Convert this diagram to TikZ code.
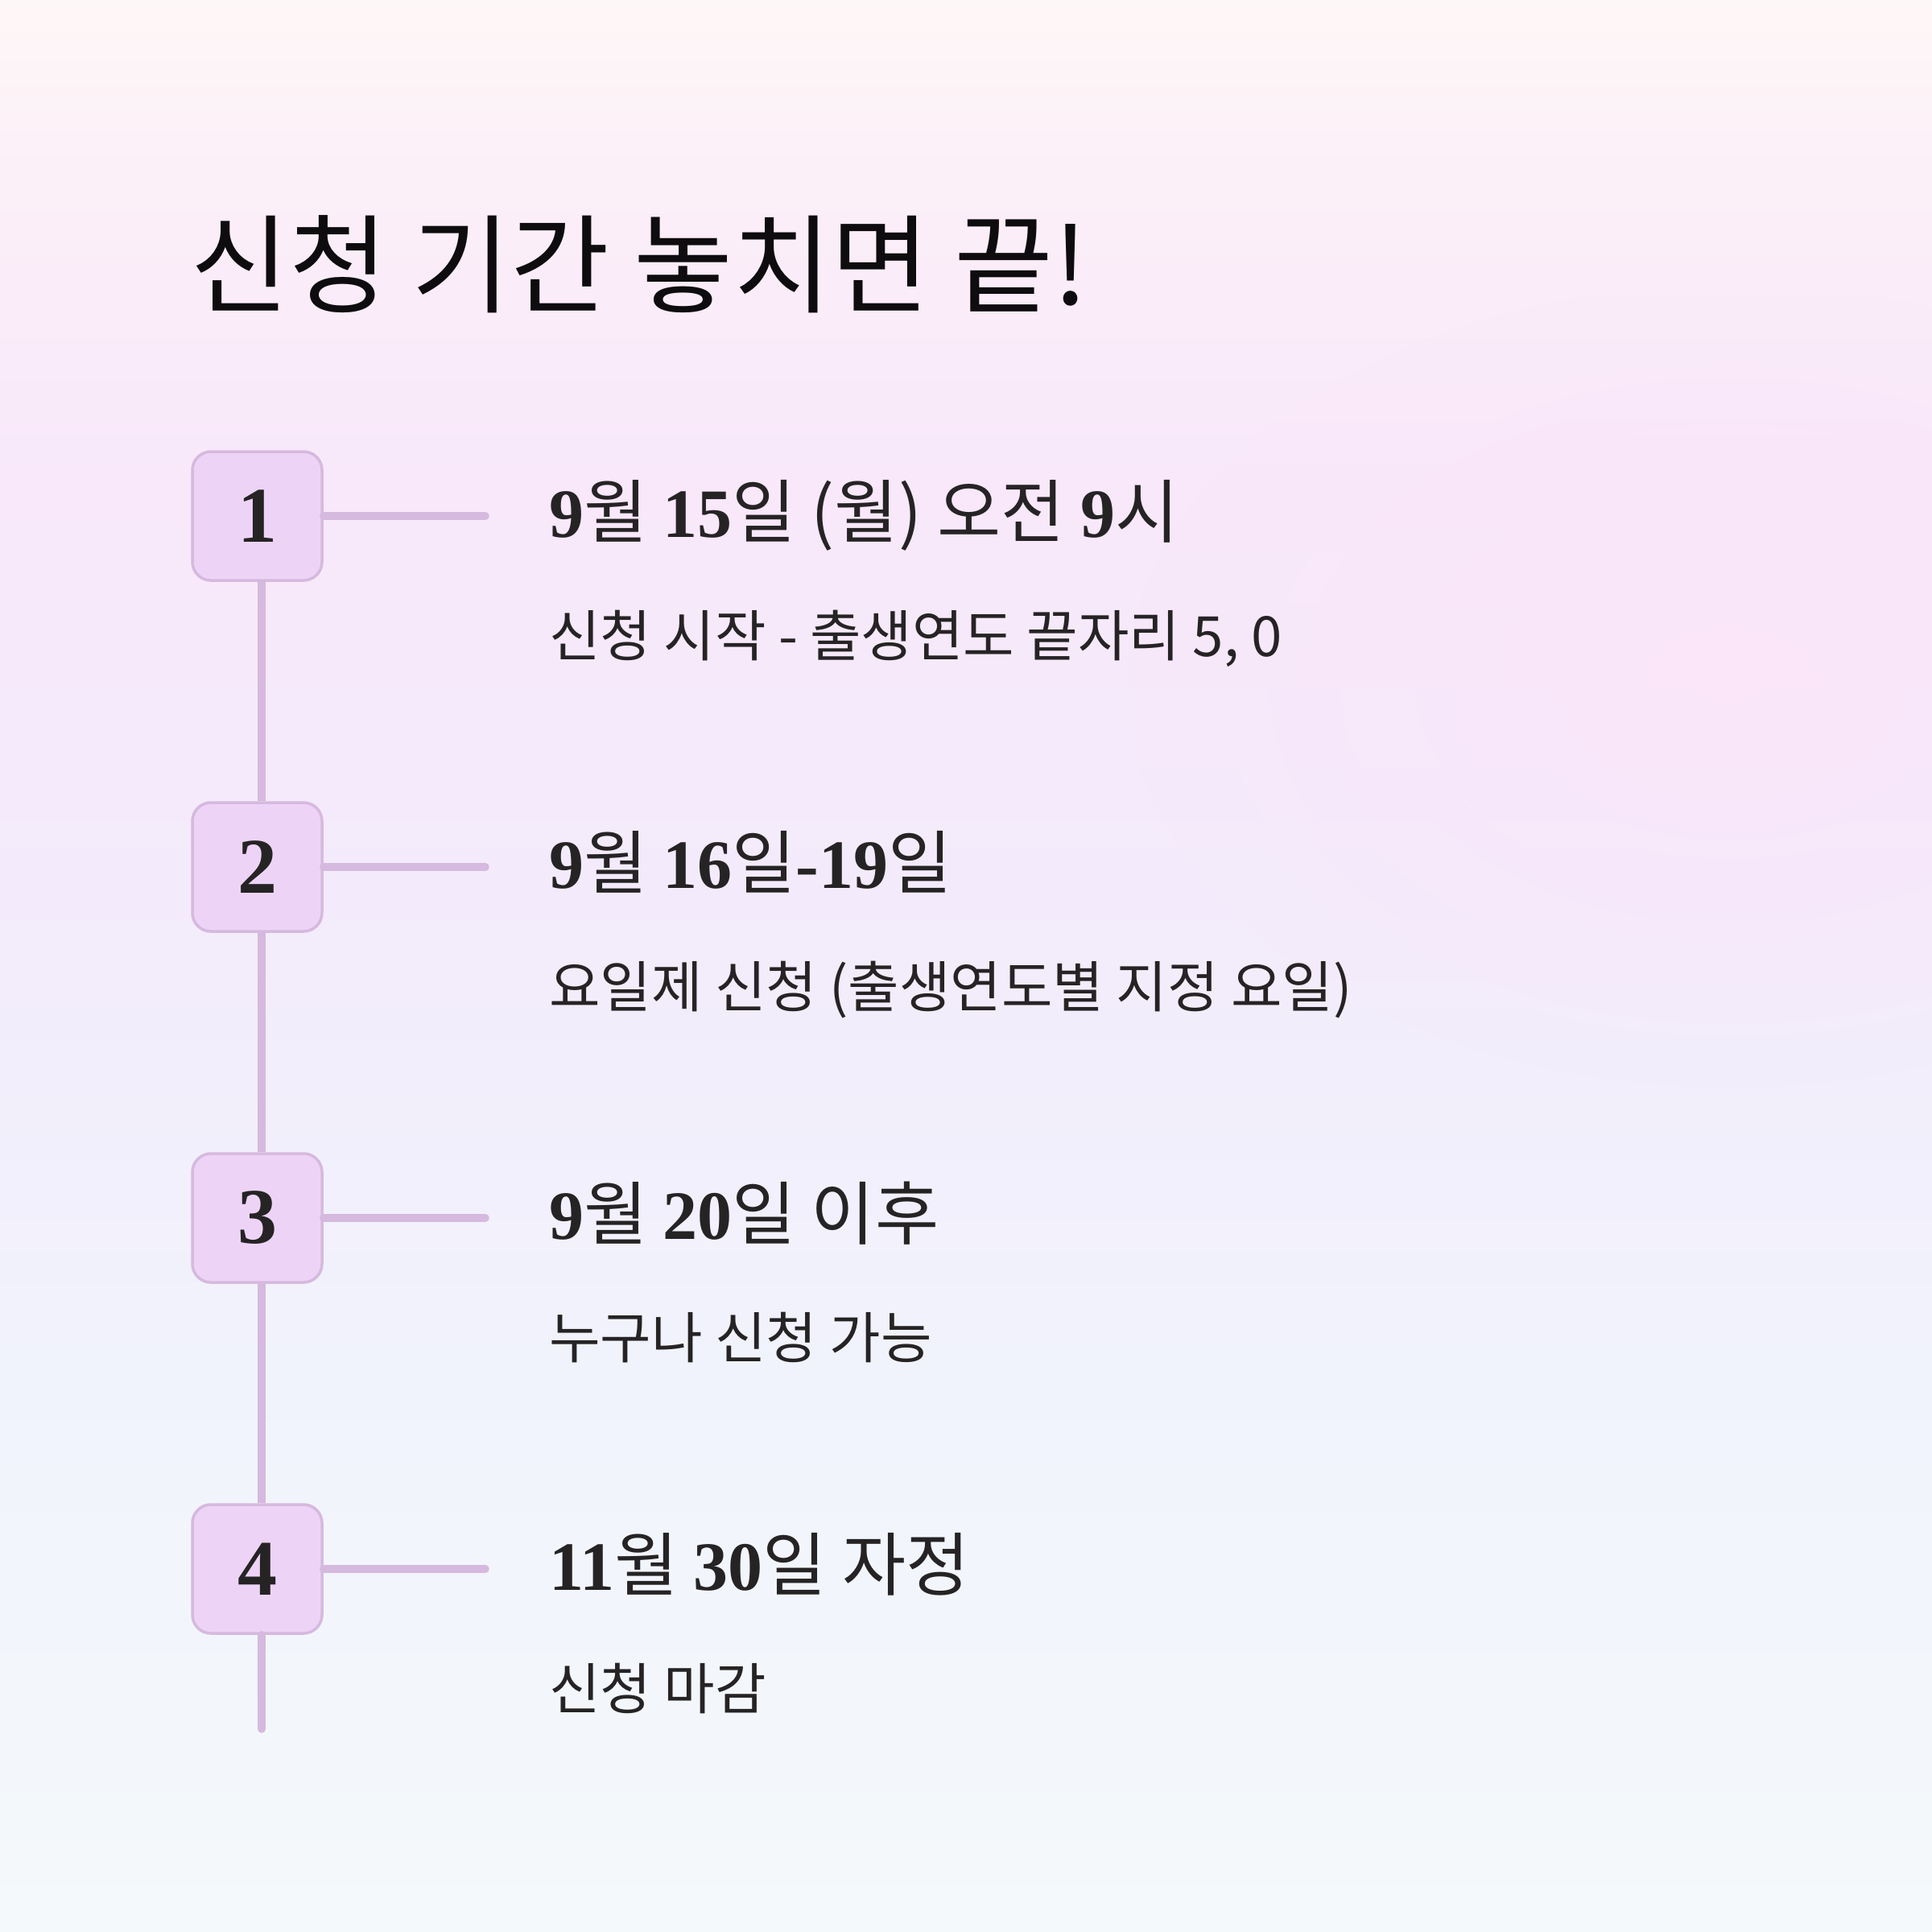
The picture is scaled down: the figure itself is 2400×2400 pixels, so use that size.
\documentclass[tikz,border=0pt]{standalone}
\usepackage{fontspec}
\setmainfont{Liberation Serif}
\newfontfamily\krfont{Noto Sans CJK KR}
\usetikzlibrary{positioning,fadings}
\definecolor{inkdark}{HTML}{262325}
\definecolor{inktitle}{HTML}{0E0C0E}
\definecolor{boxfill}{HTML}{EDD4F6}
\definecolor{linecol}{HTML}{D6B9DE}
\definecolor{bgtop}{HTML}{FEF7F7}
\definecolor{bgrose}{HTML}{FBEFF8}
\definecolor{bgpink}{HTML}{F8E8FA}
\definecolor{bgmid}{HTML}{F3EBFB}
\definecolor{bglow}{HTML}{F1F3FC}
\definecolor{bgbot}{HTML}{F4F9FB}
\definecolor{glowpink}{HTML}{FDE4F9}
\pgfdeclareverticalshading{pagebg}{100bp}{color(0bp)=(bgbot); color(25bp)=(bgbot); color(39.5bp)=(bglow); color(52bp)=(bgmid); color(62.5bp)=(bgpink); color(70bp)=(bgrose); color(75bp)=(bgtop); color(100bp)=(bgtop)}
\tikzfading[name=softglow, inner color=transparent!30, outer color=transparent!100]
\newcommand{\num}[1]{{\rmfamily\bfseries #1}}
\newcommand{\steprow}[4]{%
  \node[stepnum] (b#1) at (319.5,#2) {#1};
  \coordinate (t#1) at (603,#2);
  \draw[tick] (b#1.east) -- (t#1);
  \node[headtext] (h#1) at (682,{#2+26}) {#3};
  \node[subtext] (s#1) at (682,{#2+174}) {#4};
}

\begin{document}
\begin{tikzpicture}[x=1pt, y=-1pt,
  stepnum/.style={draw=linecol, line width=3.5pt, fill=boxfill, rounded corners=23pt,
    minimum width=161pt, minimum height=160pt, inner sep=0pt, text=inkdark,
    font=\rmfamily\bfseries\fontsize{98}{98}\selectfont},
  spine/.style={draw=linecol, line width=9.5pt},
  tick/.style={draw=linecol, line width=9.5pt, line cap=round},
  headtext/.style={anchor=base west, inner sep=0pt, text=inkdark,
    font=\krfont\fontsize{86}{100}\selectfont},
  subtext/.style={anchor=base west, inner sep=0pt, text=inkdark,
    font=\krfont\fontsize{69}{80}\selectfont},
  titletext/.style={anchor=base west, inner sep=0pt, text=inktitle,
    font=\krfont\fontsize{133.5}{150}\selectfont}]

  \useasboundingbox (0,0) rectangle (2400,2400);
  \shade[shading=pagebg] (0,0) rectangle (2400,2400);
  \fill[glowpink, path fading=softglow] (2150,850) ellipse (750 and 500);

  \node[titletext] (title) at (236,378) {신청 기간 놓치면 끝!};

  \steprow{1}{641}{\num{9}월 \num{15}일 (월) 오전 \num{9}시}{신청 시작 - 출생연도 끝자리 5, 0}
  \steprow{2}{1077}{\num{9}월 \num{16}일\num{-19}일}{요일제 신청 (출생연도별 지정 요일)}
  \steprow{3}{1513}{\num{9}월 \num{20}일 이후}{누구나 신청 가능}
  \steprow{4}{1949}{\num{11}월 \num{30}일 자정}{신청 마감}

  \coordinate (tail) at (325,2148);
  \draw[spine] ([xshift=5.5pt]b1.south) -- ([xshift=5.5pt]b2.north);
  \draw[spine] ([xshift=5.5pt]b2.south) -- ([xshift=5.5pt]b3.north);
  \draw[spine] ([xshift=5.5pt]b3.south) -- ([xshift=5.5pt]b4.north);
  \draw[spine, line cap=round] ([xshift=5.5pt]b4.south) -- (tail);

\end{tikzpicture}
\end{document}
